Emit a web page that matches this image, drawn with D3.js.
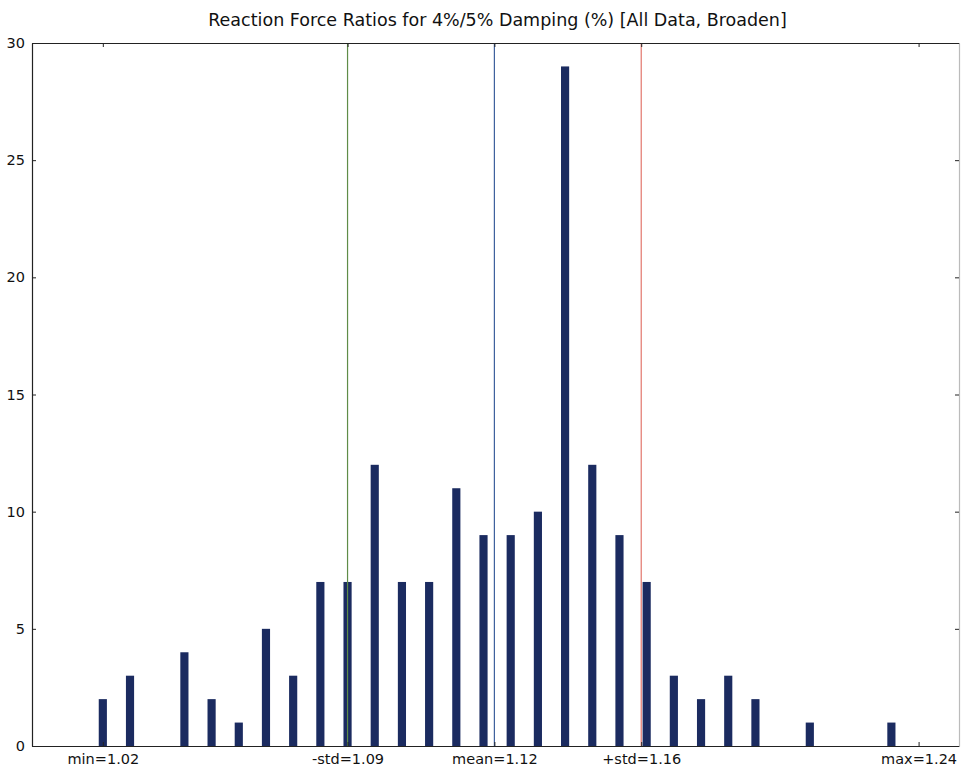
<!DOCTYPE html>
<html><head><meta charset="utf-8">
<script src="https://cdn.jsdelivr.net/npm/d3@7"></script>
<style>body{margin:0;background:#fff;} svg{display:block;font-family:"DejaVu Sans",sans-serif;}</style>
</head><body><svg id="c" width="961" height="769"></svg>
<script>
const title = "Reaction Force Ratios for 4%/5% Damping (%) [All Data, Broaden]";
const counts = [2,3,0,4,2,1,5,3,7,7,12,7,7,11,9,9,10,29,12,9,7,3,2,3,2,0,1,0,0,1];
const dataMin = 1.0191, dataMax = 1.2391, dataMean = 1.1247, dataStd = 0.0396;
const xDomain = [1.0, 1.25];
const yDomain = [0, 30];
const yTicks = [0,5,10,15,20,25,30];
const xTickValues = [dataMin, dataMean - dataStd, dataMean, dataMean + dataStd, dataMax];
const xTickLabels = ["min=1.02", "-std=1.09", "mean=1.12", "+std=1.16", "max=1.24"];
const refLines = [
  {value: dataMean - dataStd, color: "#5f8c48"},
  {value: dataMean, color: "#3c5f9c"},
  {value: dataMean + dataStd, color: "#e2766c"}
];

(function () {
const m = {left: 32, right: 959, top: 43, bottom: 746};
const svg = d3.select("#c");
const x = d3.scaleLinear().domain(xDomain).range([m.left, m.right]);
const y = d3.scaleLinear().domain(yDomain).range([m.bottom, m.top]);
const binW = (dataMax - dataMin) / counts.length;
const barW = x(dataMin + binW * 0.3) - x(dataMin);

svg.append("text").attr("x", (m.left + m.right) / 2 + 2).attr("y", 26)
  .attr("text-anchor", "middle").attr("font-size", 17.5).attr("fill", "#111").text(title);

svg.append("g").selectAll("rect").data(counts.map((c, i) => ({c, i})).filter(d => d.c > 0))
  .enter().append("rect")
  .attr("x", d => x(dataMin + d.i * binW) - barW / 2)
  .attr("width", barW)
  .attr("y", d => y(d.c))
  .attr("height", d => y(0) - y(d.c))
  .attr("fill", "#1b2b60");

svg.append("g").selectAll("line").data(refLines).enter().append("line")
  .attr("x1", d => x(d.value)).attr("x2", d => x(d.value))
  .attr("y1", m.top).attr("y2", m.bottom)
  .attr("stroke", d => d.color).attr("stroke-width", 1.2);

const fmtX = (d, i) => xTickLabels[i];
const gBottom = svg.append("g").attr("transform", `translate(0,${m.bottom})`)
  .call(d3.axisBottom(x).tickValues(xTickValues).tickFormat(fmtX).tickSizeInner(-4).tickSizeOuter(0).tickPadding(8));
const gTop = svg.append("g").attr("transform", `translate(0,${m.top})`)
  .call(d3.axisTop(x).tickValues(xTickValues).tickFormat("").tickSizeInner(-4).tickSizeOuter(0));
const gLeft = svg.append("g").attr("transform", `translate(${m.left},0)`)
  .call(d3.axisLeft(y).tickValues(yTicks).tickSizeInner(-4).tickSizeOuter(0).tickPadding(7));
const gRight = svg.append("g").attr("transform", `translate(${m.right},0)`)
  .call(d3.axisRight(y).tickValues(yTicks).tickFormat("").tickSizeInner(-4).tickSizeOuter(0));
[gBottom, gTop, gLeft, gRight].forEach(g => {
  g.selectAll("text").attr("font-size", 14.5).attr("fill", "#111").attr("font-family", "DejaVu Sans");
  g.selectAll("line").attr("stroke", "#222");
  g.select(".domain").attr("stroke", "#222").attr("stroke-width", 1.2);
});
gRight.select(".domain").attr("stroke", "#bbb");
})();
</script></body></html>
